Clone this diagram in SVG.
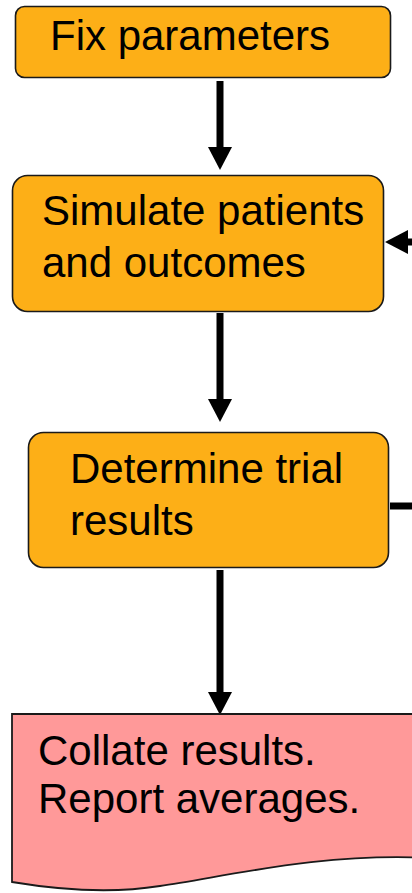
<svg xmlns="http://www.w3.org/2000/svg" width="412" height="893" viewBox="0 0 412 893">
<style>
.box{fill:#FDAF17;stroke:#1a1a1a;stroke-width:1.6}
.doc{fill:#FF9999;stroke:#1a1a1a;stroke-width:1.8}
.t{font-family:"Liberation Sans",Arial,sans-serif;font-size:42px;fill:#000}
.c{stroke:#000;stroke-width:7;fill:none}
</style>
<defs>
<marker id="ah" markerUnits="userSpaceOnUse" markerWidth="24" markerHeight="24" refX="0" refY="12" orient="auto" viewBox="0 0 24 24">
<path d="M0,0 L23,12 L0,24 Z" fill="#000"/>
</marker>
</defs>
<rect width="412" height="893" fill="#fff"/>
<g id="connectors">
<line class="c" x1="220" y1="81" x2="220" y2="147" marker-end="url(#ah)"/>
<line class="c" x1="220" y1="313" x2="220" y2="399" marker-end="url(#ah)"/>
<line class="c" x1="220" y1="570" x2="220" y2="692" marker-end="url(#ah)"/>
<line class="c" x1="416" y1="242" x2="408" y2="242" marker-end="url(#ah)"/>
<line class="c" x1="390" y1="506" x2="416" y2="506"/>
</g>
<g id="fix">
<rect class="box" x="15.5" y="6.5" width="375" height="71" rx="9"/>
<text class="t" x="50" y="50">Fix parameters</text>
</g>
<g id="simulate">
<rect class="box" x="12.5" y="175.5" width="371" height="136" rx="15"/>
<text class="t" x="42" y="225">Simulate patients</text>
<text class="t" x="42" y="277">and outcomes</text>
</g>
<g id="determine">
<rect class="box" x="28.5" y="432.5" width="360" height="135" rx="15"/>
<text class="t" x="70" y="483">Determine trial</text>
<text class="t" x="70" y="535">results</text>
</g>
<g id="collate">
<path class="doc" d="M12,714 H430 V858 C320,852 220,878 160,886 C110,894 60,890 12,882 Z"/>
<text class="t" x="38" y="765">Collate results.</text>
<text class="t" x="38" y="813">Report averages.</text>
</g>
</svg>
